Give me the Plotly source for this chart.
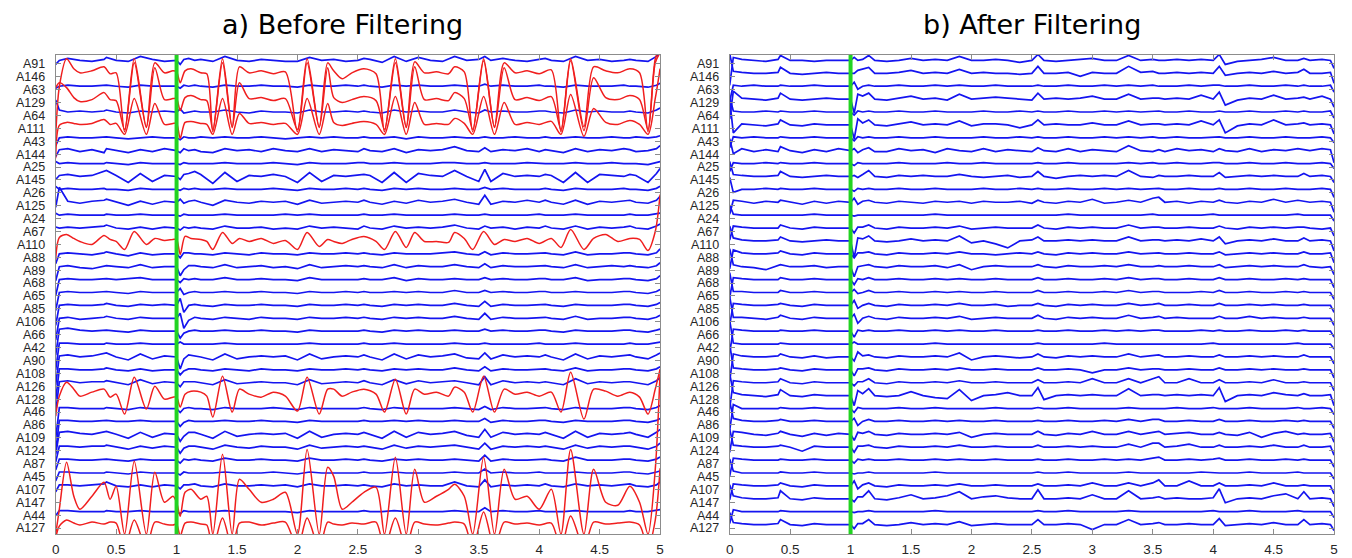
import plotly.graph_objects as go

# ---------------- channel names (top to bottom) ----------------
CHANNELS = ["A91", "A146", "A63", "A129", "A64", "A111", "A43", "A144", "A25", "A145",
            "A26", "A125", "A24", "A67", "A110", "A88", "A89", "A68", "A65", "A85",
            "A106", "A66", "A42", "A90", "A108", "A126", "A128", "A46", "A86", "A109",
            "A124", "A87", "A45", "A107", "A147", "A44", "A127"]
RED_BEFORE = ["A146", "A129", "A111", "A110", "A128", "A147", "A127"]

X_TICKS = [0, 0.5, 1, 1.5, 2, 2.5, 3, 3.5, 4, 4.5, 5]
X_TICKTEXT = ["0", "0.5", "1", "1.5", "2", "2.5", "3", "3.5", "4", "4.5", "5"]
MARK_TIME = 1.0
TITLES = ["a) Before Filtering", "b) After Filtering"]

# sample times (s) for the blue traces, in 6 groups
T_BLUE = [[0, 0.03, 0.1, 0.2, 0.3, 0.4, 0.42, 0.5, 0.6, 0.7, 0.8, 0.9],
          [1.0, 1.03, 1.06, 1.1, 1.15, 1.2],
          [1.3, 1.4, 1.5, 1.6, 1.7, 1.8, 1.9, 2.0, 2.1, 2.2, 2.3, 2.4, 2.5],
          [2.55, 2.6, 2.7, 2.8, 2.9, 3.0, 3.1, 3.2, 3.3, 3.4, 3.5],
          [3.55, 3.6, 3.7, 3.8, 3.9, 4.0, 4.05, 4.1],
          [4.2, 4.3, 4.4, 4.5, 4.6, 4.7, 4.75, 4.8, 4.9, 4.97, 5.0]]
# sample times (s) for the red (artifact) traces, in 5 groups
T_RED = [[0, 0.03, 0.09, 0.15, 0.2, 0.3, 0.4, 0.45, 0.5, 0.57, 0.65, 0.75, 0.82, 0.9, 0.97],
         [1.0, 1.03, 1.07, 1.12, 1.2, 1.25, 1.30, 1.38, 1.46, 1.52, 1.6, 1.7, 1.8, 1.9],
         [2.0, 2.08, 2.18, 2.25, 2.3, 2.37, 2.45, 2.55, 2.65, 2.72, 2.81, 2.90, 2.97],
         [3.05, 3.15, 3.25, 3.30, 3.38, 3.45, 3.54, 3.63, 3.71, 3.8, 3.9, 4.0, 4.1],
         [4.18, 4.26, 4.37, 4.45, 4.55, 4.65, 4.75, 4.83, 4.90, 4.96, 5.0]]

# ---------------- a) before filtering: blue channels ----------------
b_A91 = [[-4,0,2,0,-1,1,3,0,-1,4,1,-1],[0,-4,1,2,0,1],[-1,4,0,-1,1,0,-1,-1,3,0,1,-1,0],[2,1,-2,4,-1,3,0,-1,4,0,1],[4,0,2,0,-1,1,2,0],[-1,4,0,1,-1,0,1,0,-1,4,8]]
b_A63 = [[-2,0,1,0,0,1,1,0,-1,1,0,0],[0,-2,1,0,1,0],[-1,1,0,0,1,0,0,-1,1,0,0,1,0],[1,0,-1,1,0,1,0,0,1,0,0],[2,0,1,0,0,1,0,0],[-1,1,0,0,0,1,0,0,-1,1,3]]
b_A64 = [[12,2,0,1,0,1,2,0,-1,1,0,1],[0,3,-1,0,1,0],[0,2,0,-1,1,0,0,-1,2,0,0,1,0],[1,0,-1,2,0,1,0,0,2,0,-1],[2,0,1,0,0,1,1,0],[-1,2,0,1,0,0,1,0,-1,2,4]]
b_A43 = [[-8,0,1,0,0,1,1,0,-1,0,1,0],[0,-2,1,0,0,1],[0,1,0,0,1,0,-1,0,1,0,1,0,0],[1,0,0,1,-1,1,0,0,1,0,0],[1,0,0,1,0,0,1,0],[0,1,0,0,1,0,0,1,0,1,2]]
b_A144 = [[-6,1,2,-1,1,-2,2,0,-2,1,-1,2],[0,-2,2,0,1,-1],[-2,2,0,1,-1,2,0,-1,2,-1,1,0,-1],[2,0,-1,2,-2,1,0,1,4,0,-1],[3,-1,1,0,2,-1,1,0],[-2,2,-1,1,0,2,1,-1,0,2,5]]
b_A25 = [[2,0,1,0,0,0,1,0,-1,1,0,0],[0,-1,1,0,0,0],[0,1,0,0,0,1,0,-1,1,0,0,0,1],[1,0,0,1,0,0,0,1,1,0,0],[1,0,0,0,1,0,0,0],[0,1,0,0,1,0,0,0,-1,1,2]]
b_A145 = [[-3,1,2,0,1,5,6,1,-6,3,-5,1],[0,-3,2,3,5,2],[-7,4,-5,1,0,2,0,-6,4,-5,1,0,1],[2,1,-6,4,-6,3,1,0,6,0,-5],[7,-5,3,0,1,0,2,1],[-6,4,-6,2,1,0,2,1,-6,3,8]]
b_A26 = [[3,0,1,0,0,1,0,0,-1,1,0,0],[0,-1,1,0,1,0],[0,1,0,0,0,1,0,-1,1,0,0,1,0],[1,0,-1,1,0,1,0,0,1,0,0],[2,0,1,0,0,0,1,0],[-1,1,0,0,0,1,0,0,-1,1,3]]
b_A125 = [[-5,15,1,-1,1,2,3,0,-3,1,-2,1],[0,3,-1,1,2,0],[-3,2,0,-1,1,0,1,-2,2,-1,0,1,0],[2,0,-2,1,-1,2,0,1,3,0,-2],[7,-2,1,0,2,0,2,0],[-2,2,-2,1,0,1,2,0,-1,2,6]]
b_A24 = [[2,0,1,0,0,0,1,0,0,1,0,0],[0,-1,1,0,0,0],[0,1,0,0,0,0,1,0,1,0,0,0,0],[1,0,0,1,0,0,0,0,1,0,0],[1,0,0,0,0,1,0,0],[0,1,0,0,0,0,1,0,0,1,2]]
b_A67 = [[1,0,1,0,1,2,3,0,-1,1,-1,1],[0,-2,1,0,1,0],[-1,2,0,0,1,-1,0,-1,2,0,1,0,-1],[2,0,-1,2,0,1,0,1,3,0,-1],[2,0,1,-1,1,0,2,0],[-1,2,-1,1,0,1,2,0,-1,2,4]]
b_A88 = [[-10,0,1,0,-1,1,2,0,-2,1,-1,0],[0,-4,1,1,0,0],[-1,1,0,-1,1,0,0,-1,1,0,0,1,0],[1,0,-1,1,0,0,0,1,2,0,-1],[2,-1,1,0,0,1,1,0],[-1,2,-1,0,0,1,1,0,-1,1,5]]
b_A89 = [[-14,0,1,-1,-2,1,1,0,-1,2,-1,0],[0,-9,-3,1,1,0],[-1,2,-1,0,1,-1,0,-2,2,-1,0,1,0],[1,0,-1,2,-1,1,0,0,2,0,-1],[3,-1,1,0,0,1,1,0],[-1,2,-1,0,1,0,1,0,-1,1,4]]
b_A68 = [[-16,0,1,0,0,1,1,0,1,2,0,0],[0,-3,1,0,1,0],[0,2,0,0,1,0,0,-1,2,0,0,0,0],[1,0,0,2,-1,1,0,0,1,0,0],[2,0,1,0,0,1,1,0],[0,2,-1,0,0,1,1,0,-1,1,4]]
b_A65 = [[-18,0,1,0,0,1,1,0,-1,1,0,0],[0,4,-2,0,1,0],[0,1,0,0,1,0,0,-1,1,0,0,1,0],[1,0,0,1,0,1,0,0,2,0,0],[2,0,1,0,0,1,1,0],[0,1,0,0,0,1,1,0,-1,1,3]]
b_A85 = [[-20,0,1,0,0,1,2,0,-1,1,0,1],[0,7,-7,0,1,0],[-1,1,0,0,1,0,0,-1,1,0,0,1,0],[1,0,-1,1,0,1,0,0,2,0,-1],[4,-1,1,0,0,1,1,0],[-1,1,0,0,0,1,1,0,-1,1,3]]
b_A106 = [[-22,0,1,-1,0,1,2,0,-1,1,0,0],[0,5,-10,-2,1,0],[-1,1,0,-1,1,0,0,-1,1,0,0,1,0],[1,0,-1,1,0,1,0,0,2,0,-1],[5,-1,1,0,0,1,1,0],[-1,2,-1,0,0,1,1,0,-1,1,3]]
b_A66 = [[-24,2,3,1,0,1,1,0,-1,1,0,0],[0,-7,-2,0,1,0],[0,1,0,0,1,0,0,-1,1,0,0,0,0],[1,0,-1,1,0,1,0,0,1,0,0],[2,0,1,0,0,1,1,0],[-1,1,0,0,0,1,1,0,-1,1,2]]
b_A42 = [[-26,1,1,0,0,0,1,0,0,1,0,0],[0,2,0,0,0,0],[0,1,0,0,0,0,0,0,1,0,0,0,0],[1,0,0,1,0,0,0,0,1,0,0],[1,0,0,0,0,1,0,0],[0,1,0,0,0,0,1,0,0,1,2]]
b_A90 = [[-28,1,2,0,1,3,4,0,-3,3,-2,1],[0,-12,-2,2,1,0],[-3,3,-2,0,1,0,1,-3,3,-2,0,1,0],[2,0,-3,3,-2,2,0,1,3,-1,-2],[4,-2,2,0,1,0,2,0],[-3,3,-2,1,0,1,2,0,-2,2,4]]
b_A108 = [[-30,1,1,0,0,1,2,0,-1,1,-1,0],[0,-5,-1,1,1,0],[-1,1,0,-1,1,0,0,-1,1,0,0,1,0],[1,0,-1,1,0,1,0,0,2,0,-1],[3,-1,1,0,0,1,1,0],[-1,2,-1,0,0,1,1,0,-1,1,3]]
b_A126 = [[-30,1,2,0,1,1,2,0,-2,3,-1,1],[0,-4,1,1,1,0],[-2,3,-1,0,1,0,0,-2,3,-1,0,1,0],[2,0,-2,3,-1,2,0,1,2,0,-2],[6,-2,2,0,1,0,1,0],[-2,4,-1,1,0,1,1,0,-2,2,5]]
b_A46 = [[-30,1,1,0,0,0,1,0,-1,1,0,0],[0,-4,0,1,0,0],[-1,1,0,0,0,1,0,-1,1,0,0,0,0],[1,0,-1,1,0,0,0,0,1,0,-1],[2,-1,1,0,0,1,1,0],[-1,1,0,0,0,1,1,0,-1,1,3]]
b_A86 = [[-30,1,1,0,0,1,1,0,0,1,0,0],[0,-5,-1,1,0,0],[0,1,0,0,1,0,0,-1,1,0,0,0,0],[1,0,0,1,0,1,0,0,1,0,0],[3,-1,1,0,0,1,1,0],[-1,1,0,0,0,1,1,0,-1,1,3]]
b_A109 = [[-20,2,3,1,0,2,3,0,-4,2,-3,1],[0,-7,-2,2,2,0],[-4,3,-2,0,1,0,1,-4,3,-3,0,1,0],[2,0,-4,3,-3,2,0,1,3,-1,-3],[5,-3,2,0,1,0,2,0],[-4,3,-3,1,0,1,2,0,-3,2,5]]
b_A124 = [[-15,1,1,0,1,1,2,0,-2,1,-1,1],[0,-6,-1,1,1,0],[-2,2,0,-1,1,0,0,-2,2,-1,0,1,0],[1,0,-2,2,-1,1,0,1,2,0,-2],[4,-2,1,0,1,0,1,0],[-2,2,-1,1,0,1,1,0,-2,1,4]]
b_A87 = [[-10,1,1,0,0,1,1,0,-1,1,0,0],[0,-3,1,0,1,0],[-1,2,0,0,1,0,0,-1,2,0,0,1,0],[1,0,-1,1,0,1,0,0,1,0,-1],[5,-1,1,0,0,1,1,0],[-1,3,0,0,0,1,1,0,-1,1,3]]
b_A45 = [[-8,1,1,0,0,0,1,0,-1,1,0,0],[0,-2,1,0,0,0],[0,1,0,0,0,1,0,-1,1,0,0,0,0],[1,0,0,1,0,0,0,0,1,0,0],[4,0,1,0,0,1,0,0],[0,1,0,0,0,1,1,0,-1,1,2]]
b_A107 = [[-6,1,1,0,1,2,4,0,-1,1,-1,1],[0,-3,1,1,2,0],[-1,2,0,0,1,0,1,-1,2,0,0,1,0],[1,0,-1,2,0,1,0,0,4,0,-1],[6,-1,1,0,1,0,2,0],[-1,2,0,1,0,1,2,0,-1,1,4]]
b_A44 = [[-4,1,1,0,0,0,1,0,0,1,0,0],[0,-2,1,0,0,0],[0,1,0,0,0,0,0,-1,1,0,0,0,0],[1,0,0,1,0,0,0,0,1,0,0],[4,0,1,0,0,1,0,0],[0,1,0,0,0,0,1,0,0,1,2]]

# ---------------- a) before filtering: red (artifact) channels ----------------
r_A146 = [[-60,-10,18,8,4,6,10,3,4,-55,18,-50,14,4,6],[5,-6,6,8,4,3,-55,18,-50,10,4,6,3,5],[-55,18,-50,14,6,-2,4,8,3,-55,18,-50,15],[4,5,3,10,5,-55,18,-50,14,4,6,3,7],[-55,18,-50,10,6,4,8,4,-55,18,30]]
r_A129 = [[15,20,15,5,1,3,10,3,2,-27,40,-25,35,3,4],[4,-8,5,7,3,2,-27,40,-25,20,4,5,2,4],[-27,40,-25,35,5,0,3,6,2,-27,40,-25,36],[3,4,2,10,4,-27,42,-25,35,3,5,2,6],[-27,42,-28,25,5,3,7,3,-27,40,50]]
r_A111 = [[-30,3,6,5,4,5,9,4,5,-6,30,-6,25,4,5],[5,-10,6,7,5,4,-6,30,-6,15,5,6,4,5],[-6,30,-6,25,6,3,5,7,4,-6,32,-6,26],[4,5,4,10,5,-6,32,-6,26,4,6,4,7],[-6,34,-8,20,6,4,8,4,-6,30,60]]
r_A110 = [[-15,7,10,6,3,0,9,5,3,-5,13,0,6,4,5],[5,-10,8,6,5,3,-5,12,1,6,3,6,1,4],[-5,12,-2,5,3,1,5,8,3,-5,13,-3,12],[3,3,2,12,6,-5,13,0,5,3,6,1,6],[-3,15,-5,6,10,3,6,5,-6,13,50]]
r_A128 = [[-17,3,17,10,3,7,10,2,5,-15,22,-10,13,0,2],[2,-8,5,8,7,3,-18,23,-13,10,5,2,7,3],[-12,22,-15,10,10,3,7,10,5,-13,20,-15,10],[5,7,3,12,7,-13,23,-13,10,5,7,3,7],[-13,27,-20,10,8,3,7,2,-15,10,30]]
r_A147 = [[-32,-7,40,6,-7,6,20,3,16,-32,41,-32,30,0,6],[0,-14,10,13,3,6,-32,48,-32,23,13,0,3,10],[-32,53,-32,35,26,-7,0,10,15,-32,45,-32,33],[0,6,13,18,6,-32,45,-32,33,3,6,-7,13],[-32,53,-32,33,0,-3,16,0,-32,33,130]]
r_A127 = [[-10,2,8,5,3,6,4,6,5,-20,8,-20,6,4,3],[4,-8,5,6,4,3,-20,10,-20,5,6,3,5,6],[-20,10,-20,6,4,3,5,4,6,-20,10,-20,6],[4,3,5,6,4,-20,16,-20,6,4,5,3,5],[-20,12,-20,6,4,5,6,3,-20,8,60]]

# ---------------- b) after filtering: all channels ----------------
a_A91 = [[-25,3,1,0,-1,1,5,0,0,-1,0,0],[0,3,0,1,5,0],[-1,0,2,0,1,0,4,0,0,1,0,-2,0],[6,0,-1,0,1,2,0,0,5,0,1],[0,0,1,0,1,0,6,-4],[-1,0,1,3,0,0,2,0,1,0,-8]]
a_A146 = [[20,2,1,0,0,1,6,0,-1,0,1,0],[0,0,3,4,6,0],[0,1,3,0,1,0,4,0,1,0,0,-1,0],[7,0,0,1,-3,1,0,0,7,1,2],[0,0,1,0,1,0,7,-2],[0,1,0,2,0,1,4,0,0,1,-10]]
a_A63 = [[-15,1,0,1,0,0,1,0,0,1,0,0],[0,4,-3,0,1,0],[0,1,0,0,1,0,1,0,0,1,0,0,0],[1,0,0,1,0,0,1,0,1,0,1],[0,0,0,1,0,1,1,0],[0,1,0,0,1,0,1,0,0,1,-6]]
a_A129 = [[-20,8,1,0,-1,1,6,0,-1,0,1,0],[0,-14,5,3,6,0],[-1,1,3,0,1,-1,5,0,1,2,1,0,-1],[6,0,1,0,1,3,0,0,5,0,1],[1,0,1,0,4,0,7,-6],[-1,1,0,4,0,1,2,0,3,0,-8]]
a_A64 = [[15,1,0,0,1,0,1,0,0,1,0,0],[0,-3,1,0,1,0],[0,1,0,0,1,0,0,0,1,0,0,1,0],[1,0,0,1,0,0,1,0,1,0,1],[1,0,0,1,0,0,1,0],[0,1,0,0,1,0,1,0,0,1,-6]]
a_A111 = [[25,-8,1,0,-1,1,5,0,-1,1,0,0],[0,-14,6,2,5,0],[-1,1,3,0,1,0,4,-1,1,1,0,-3,0],[5,0,1,0,0,2,0,0,4,0,1],[1,0,1,0,4,0,5,-8],[-1,1,0,5,0,1,2,0,1,0,-9]]
a_A43 = [[-10,1,0,1,0,0,1,0,0,1,0,0],[0,-3,1,0,1,0],[0,1,0,0,1,0,0,0,1,0,0,1,0],[1,0,0,1,0,0,1,0,1,0,1],[0,0,1,0,0,1,1,0],[0,1,0,0,1,0,0,0,1,0,-5]]
a_A144 = [[12,-3,2,-1,1,-1,4,0,-2,1,-1,2],[0,2,-2,1,3,-1],[-1,2,0,1,-2,2,0,-1,2,-1,1,0,-1],[3,0,-1,2,-1,1,0,-1,5,0,-1],[1,-1,2,0,1,-1,2,0],[-1,2,-1,1,0,2,1,0,2,1,-12]]
a_A25 = [[-8,1,0,0,1,0,1,0,0,1,0,0],[0,-2,1,0,0,0],[0,1,0,0,0,1,0,0,1,0,0,0,0],[1,0,0,1,0,0,0,0,1,0,1],[0,0,1,0,0,1,1,0],[0,1,0,0,1,0,0,0,1,0,-5]]
a_A145 = [[15,2,1,0,0,1,5,0,-1,0,1,0],[0,1,-1,2,6,0],[-1,1,0,1,0,0,2,0,-1,0,1,-1,0],[5,0,-2,0,1,0,1,0,6,0,-1],[1,0,0,1,0,0,4,-1],[0,1,0,1,0,0,3,0,1,0,-6]]
a_A26 = [[12,-3,0,0,1,0,1,0,0,1,0,0],[0,-2,1,0,1,0],[0,1,0,0,1,0,0,0,1,0,0,1,0],[1,0,0,1,0,0,1,0,1,0,1],[1,0,0,1,0,0,1,0],[0,1,0,0,1,0,0,0,1,0,-8]]
a_A125 = [[-12,2,1,-1,1,0,2,0,-2,1,-1,1],[0,4,-2,1,2,0],[-1,1,0,-1,1,0,1,-1,1,0,0,1,-1],[2,0,-1,1,0,3,-1,0,2,0,4],[5,0,1,-1,1,0,2,0],[-1,1,0,3,0,2,1,0,1,0,-10]]
a_A24 = [[10,1,0,0,0,0,0,0,0,1,0,0],[0,-1,0,0,0,0],[0,0,0,0,1,0,0,0,0,0,0,0,0],[0,0,0,1,0,0,0,0,0,0,1],[0,0,0,0,0,1,0,0],[0,0,0,0,0,1,0,0,0,0,-6]]
a_A67 = [[-12,2,1,0,0,0,3,0,-1,1,0,0],[0,-5,1,1,3,0],[-1,1,0,0,1,0,2,-1,0,1,0,0,0],[3,0,-1,1,0,1,0,0,3,0,1],[1,0,0,1,0,0,2,0],[-1,1,0,1,0,1,1,0,-1,0,-8]]
a_A110 = [[15,3,1,0,0,1,4,0,-1,0,1,0],[0,-17,3,2,5,0],[-1,0,2,0,1,0,5,-2,0,-3,-7,0,1],[4,0,0,1,0,1,0,0,4,0,1],[1,0,1,0,2,0,4,-3],[0,1,0,2,0,0,3,0,1,0,-10]]
a_A88 = [[-15,4,1,0,0,1,3,0,-1,1,0,0],[0,-4,1,1,2,0],[-1,1,0,0,1,0,2,0,0,-1,0,1,0],[2,0,-1,1,0,1,0,0,2,0,1],[1,0,0,1,0,0,2,-1],[0,1,0,1,0,0,2,0,0,1,-9]]
a_A89 = [[18,2,0,-1,-3,1,2,0,0,1,-1,0],[0,-10,0,1,2,0],[-1,1,0,0,1,-1,2,-3,0,1,0,0,0],[2,0,-1,1,0,0,1,0,2,0,0],[1,0,0,1,0,0,2,-1],[0,1,0,1,0,0,2,0,-1,0,-8]]
a_A68 = [[-18,2,1,0,0,0,2,0,0,1,0,0],[0,-5,1,0,2,0],[0,1,0,0,1,0,1,0,0,1,0,0,0],[2,0,0,1,0,0,1,0,2,0,1],[1,0,0,1,0,0,2,0],[0,1,0,0,1,0,1,0,0,0,-8]]
a_A65 = [[20,1,1,0,0,0,2,0,0,1,0,0],[0,3,-1,0,2,0],[0,1,0,0,1,0,1,0,0,1,0,0,0],[2,0,0,1,0,0,1,0,2,0,1],[1,0,0,0,1,0,2,0],[0,1,0,0,1,0,1,0,0,0,-7]]
a_A85 = [[-20,2,1,0,0,1,2,0,-1,1,0,0],[0,5,-3,0,2,0],[-1,1,0,0,1,0,2,0,0,1,-1,0,0],[2,0,-1,1,0,1,0,0,2,0,1],[2,0,0,1,0,0,2,0],[0,1,0,1,0,0,1,0,0,0,-7]]
a_A106 = [[22,1,1,0,-1,1,3,0,-1,1,0,0],[0,4,-5,0,2,0],[-1,1,0,0,1,0,2,-1,0,1,0,0,0],[3,0,-1,1,0,1,0,0,3,0,1],[2,0,1,0,0,0,2,0],[0,2,0,1,0,0,1,0,0,0,-7]]
a_A66 = [[-22,2,1,0,0,0,1,0,0,1,0,0],[0,-6,1,0,1,0],[0,1,0,0,1,0,1,0,0,1,0,0,0],[1,0,0,1,0,0,1,0,1,0,1],[1,0,0,0,1,0,1,0],[0,1,0,0,1,0,1,0,0,0,-6]]
a_A42 = [[24,1,0,0,0,0,1,0,0,0,0,0],[0,2,0,0,0,0],[0,0,0,0,1,0,0,0,0,0,0,0,0],[1,0,0,0,0,0,1,0,0,0,0],[0,0,0,0,0,1,0,0],[0,0,0,0,0,1,0,0,0,0,-5]]
a_A90 = [[-24,3,1,0,0,1,3,0,-1,1,-1,0],[0,-4,5,1,2,0],[-1,1,0,0,1,0,4,-3,0,1,0,-1,0],[3,0,-1,1,0,1,0,0,3,0,1],[2,0,0,1,0,0,2,0],[0,1,0,1,0,0,2,0,0,0,-7]]
a_A108 = [[26,2,1,0,0,1,2,0,-1,1,0,0],[0,-6,1,1,2,0],[-1,1,0,0,1,0,2,0,0,1,0,0,0],[2,0,0,1,0,-3,0,0,2,0,1],[1,0,0,1,0,0,2,0],[0,1,0,1,0,0,1,0,0,0,-8]]
a_A126 = [[-26,2,1,0,0,1,4,0,-1,1,0,0],[0,-3,1,1,4,0],[-1,1,0,0,1,0,2,0,0,1,0,0,0],[3,0,0,1,0,4,0,0,4,0,4],[6,0,0,4,0,0,3,0],[0,1,0,3,0,0,1,0,0,0,-8]]
a_A128 = [[22,3,1,0,-1,1,6,0,-1,1,0,0],[0,-10,5,2,7,0],[-1,0,4,0,-2,-3,6,-5,0,1,3,0,0],[8,-4,0,1,0,1,0,0,7,0,1],[1,0,1,0,1,0,8,-6],[0,1,0,3,1,0,2,0,0,1,-10]]
a_A46 = [[-22,4,0,0,0,0,1,0,0,1,0,0],[0,-4,1,0,0,0],[0,1,0,0,1,0,0,0,0,1,0,0,0],[1,0,0,1,0,0,0,0,1,0,0],[0,0,1,0,0,1,0,0],[0,1,0,0,0,1,0,0,1,0,-6]]
a_A86 = [[20,3,1,0,0,1,2,0,0,1,0,0],[0,3,-4,0,2,0],[0,1,0,0,1,0,1,0,0,1,0,0,0],[1,0,0,1,0,0,1,0,2,0,2],[2,0,0,1,0,0,2,0],[0,1,0,0,1,0,1,0,0,0,-7]]
a_A109 = [[-18,3,2,0,-1,1,3,0,-2,1,-1,1],[0,-6,2,1,3,0],[-1,1,0,0,1,0,2,-3,0,1,0,0,0],[3,0,-1,1,0,3,0,0,3,0,2],[3,0,1,2,0,0,2,0],[-1,2,-3,1,3,0,1,0,0,1,-8]]
a_A124 = [[18,2,1,0,0,1,2,0,-4,1,0,0],[0,-5,1,1,2,0],[-1,1,0,0,1,0,2,0,0,1,0,0,0],[2,0,0,1,0,1,0,0,3,0,4],[4,0,1,3,0,0,2,0],[0,1,0,2,0,0,2,0,0,1,-8]]
a_A87 = [[-16,2,1,0,0,0,1,0,0,1,0,0],[0,-3,1,0,1,0],[0,1,0,0,1,0,1,0,0,1,0,0,0],[1,0,0,1,0,0,1,0,1,0,2],[3,0,0,1,0,1,2,0],[0,1,0,0,1,0,1,0,0,0,-7]]
a_A45 = [[14,2,0,0,0,0,1,0,0,1,0,0],[0,-1,0,0,1,0],[0,0,0,0,1,0,0,0,0,0,0,0,0],[1,0,0,1,0,0,0,0,1,0,0],[0,0,0,0,1,0,0,0],[0,1,0,0,0,1,0,0,0,0,-6]]
a_A107 = [[-14,2,1,0,0,1,3,0,-1,1,0,0],[0,5,-3,1,3,0],[-1,1,0,0,1,0,2,0,0,1,0,0,0],[2,0,0,1,0,3,0,0,3,0,3],[6,0,0,5,0,0,3,0],[0,1,0,3,0,0,1,0,0,0,-8]]
a_A147 = [[14,3,1,0,0,1,8,0,-1,1,0,0],[0,-3,2,2,8,0],[-1,1,4,0,1,3,7,0,2,3,1,0,0],[9,0,0,1,0,4,0,0,8,0,1],[2,0,1,0,0,1,10,-4],[0,1,0,3,5,0,7,0,1,0,-8]]
a_A44 = [[-12,2,0,0,0,0,1,0,0,0,0,0],[0,-1,0,0,1,0],[0,0,0,0,1,0,0,0,0,0,0,0,0],[1,0,0,1,0,0,0,0,1,0,0],[0,0,0,0,0,1,0,0],[0,1,0,0,0,1,0,0,0,0,-6]]
a_A127 = [[12,2,1,0,0,1,5,0,-1,1,0,0],[0,-4,1,1,5,0],[-1,0,2,0,1,0,3,-1,0,1,0,0,0],[5,0,0,1,0,-5,0,0,5,0,1],[2,0,0,1,0,0,6,-1],[0,1,0,2,0,0,5,0,1,0,-6]]

# ---------------- style / layout constants ----------------
W, H = 1352, 558
SP = 12.92          # channel spacing (plot units = px)
LIFT = 3.5          # blue traces sit a little above their tick
BLUE = "#1414f0"
RED = "#f01e1e"
GREEN = "#22d322"
FRAME = "#8c8c8c"
TXT = "#262626"
FONT = "Arial, Liberation Sans, Helvetica, sans-serif"
TITLE_FONT = "DejaVu Sans, Arial, sans-serif"
X_DOMAINS = [(52 / W, 660 / W), (730 / W, 1338 / W)]
Y_DOMAIN = (1 - 535 / H, 1 - 55 / H)
Y_RANGE = [-36 * SP - 6.0, 0.7 * SP]
TITLE_X = [341 / W, 1034 / W]
TITLE_Y = 1 - 25 / H


def flat(groups, tgroups):
    out_t, out_v = [], []
    for tg, vg in zip(tgroups, groups):
        vg = list(vg)[:len(tg)]
        while len(vg) < len(tg):
            vg.append(vg[-1])
        out_t += tg
        out_v += vg
    return out_t, out_v


g = globals()
row = {n: i for i, n in enumerate(CHANNELS)}
fig = go.Figure()


def add(panel, name, groups, tgroups, color, shape, lift, width):
    t, v = flat(groups, tgroups)
    base = -row[name] * SP + lift
    line = dict(color=color, width=width)
    if shape == "spline":
        line.update(shape="spline", smoothing=0.8)
    fig.add_trace(go.Scatter(
        x=t, y=[base + val for val in v], mode="lines", line=line,
        xaxis="x" if panel == 0 else "x2", yaxis="y" if panel == 0 else "y2",
        hoverinfo="skip", showlegend=False))


# panel a: blue first, then red on top
for n in CHANNELS:
    if n not in RED_BEFORE:
        add(0, n, g["b_" + n], T_BLUE, BLUE, "linear", LIFT, 1.7)
for n in CHANNELS:
    if n in RED_BEFORE:
        add(0, n, g["r_" + n], T_RED, RED, "spline", 0.0, 1.5)
# panel b
for n in CHANNELS:
    add(1, n, g["a_" + n], T_BLUE, BLUE, "linear", LIFT, 1.7)

tickvals_y = [-i * SP for i in range(len(CHANNELS))]

axis_common = dict(showgrid=False, zeroline=False, showline=True, linecolor=FRAME, linewidth=1,
                   mirror="ticks", ticks="inside", ticklen=5, tickcolor=FRAME, tickwidth=1)

layout = dict(width=W, height=H, margin=dict(l=0, r=0, t=0, b=0),
              paper_bgcolor="white", plot_bgcolor="white", showlegend=False)
for k, (xa, ya) in enumerate([("xaxis", "yaxis"), ("xaxis2", "yaxis2")]):
    xid = "x" if k == 0 else "x2"
    yid = "y" if k == 0 else "y2"
    layout[xa] = dict(axis_common, domain=list(X_DOMAINS[k]), range=[0, 5], anchor=yid,
                      tickvals=X_TICKS, ticktext=X_TICKTEXT, ticklabelstandoff=3,
                      tickfont=dict(family=FONT, size=13.5, color=TXT))
    layout[ya] = dict(axis_common, domain=list(Y_DOMAIN), range=Y_RANGE, anchor=xid,
                      tickvals=tickvals_y, ticktext=CHANNELS, ticklabelstandoff=7,
                      tickfont=dict(family=FONT, size=12.5, color=TXT))
fig.update_layout(**layout)

for k in range(2):
    xid = "x" if k == 0 else "x2"
    yid = "y" if k == 0 else "y2"
    fig.add_shape(type="line", xref=xid, yref=yid + " domain", x0=MARK_TIME, x1=MARK_TIME,
                  y0=0, y1=1, line=dict(color=GREEN, width=4), layer="above")
    fig.add_annotation(text=TITLES[k], xref="paper", yref="paper", x=TITLE_X[k], y=TITLE_Y,
                       xanchor="center", yanchor="middle", showarrow=False,
                       font=dict(family=TITLE_FONT, size=27, color="black"))

fig.write_html("out.html", config={"displayModeBar": False},
               post_script="document.body.style.margin='0px';document.body.style.padding='0px';"
                           "document.body.style.overflow='hidden';")
